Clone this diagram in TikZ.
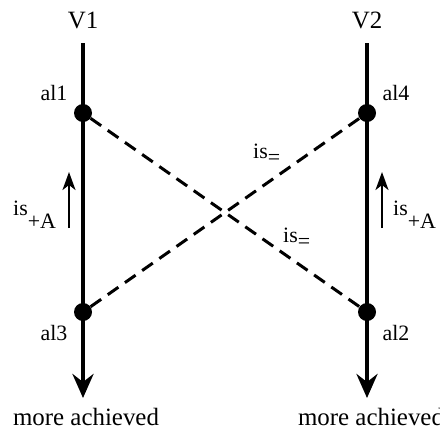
\documentclass[tikz,border=0pt]{standalone}
\usepackage{fontspec}
\setmainfont{Liberation Serif}
\usetikzlibrary{arrows.meta,positioning}

\begin{document}
\begin{tikzpicture}[
  x=1bp, y=-1bp,
  axis/.style={line width=4bp,-{Stealth[length=24bp,width=21bp,inset=8bp]}},
  ev/.style={circle,fill,inner sep=0pt,minimum size=18bp},
  link/.style={line width=3bp,dash pattern=on 13bp off 8bp},
  rise/.style={line width=2.2bp,-{Stealth[length=18bp,width=13bp,inset=5bp]}},
  lbl/.style={font=\fontsize{22}{26}\selectfont,inner sep=0pt},
  big/.style={font=\fontsize{25}{30}\selectfont,inner sep=0pt}
]
\useasboundingbox (0,0) rectangle (440,430);

%% the two lines V1 (left) and V2 (right)
\coordinate (v1top) at (83,43);
\coordinate (v1end) at (83,398);
\coordinate (v2top) at (367,43);
\coordinate (v2end) at (367,398);
\draw[axis] (v1top) -- (v1end);
\draw[axis] (v2top) -- (v2end);

\node[big,anchor=base] (v1) at (83,28) {V1};
\node[big,anchor=base] (v2) at (367,28) {V2};
\node[big,anchor=base] (more1) at (86,425) {more achieved};
\node[big,anchor=base] (more2) at (371,425) {more achieved};

%% events on the lines
\node[ev] (al1) at (83,113) {};
\node[ev] (al3) at (83,312) {};
\node[ev] (al4) at (367,113) {};
\node[ev] (al2) at (367,312) {};

\node[lbl,anchor=base] (al1lbl) at (54,100) {al1};
\node[lbl,anchor=base] (al3lbl) at (54,340) {al3};
\node[lbl,anchor=base] (al4lbl) at (396,100) {al4};
\node[lbl,anchor=base] (al2lbl) at (396,340) {al2};

%% is_= links (dashed, crossing)
\draw[link] (al1) -- (al2);
\draw[link] (al3) -- (al4);
\node[lbl,anchor=base west] (eqtop) at (253,158) {is\raisebox{-6bp}{=}};
\node[lbl,anchor=base west] (eqbot) at (283,242) {is\raisebox{-6bp}{=}};

%% is_{+A} arrows beside the lines
\coordinate (up1s) at (69,228);
\coordinate (up1e) at (69,172);
\coordinate (up2s) at (382,228);
\coordinate (up2e) at (382,172);
\draw[rise] (up1s) -- (up1e);
\draw[rise] (up2s) -- (up2e);
\node[lbl,anchor=base west] (isA1) at (13,215) {is\raisebox{-13bp}{+A}};
\node[lbl,anchor=base west] (isA2) at (393,215) {is\raisebox{-13bp}{+A}};

\end{tikzpicture}
\end{document}
